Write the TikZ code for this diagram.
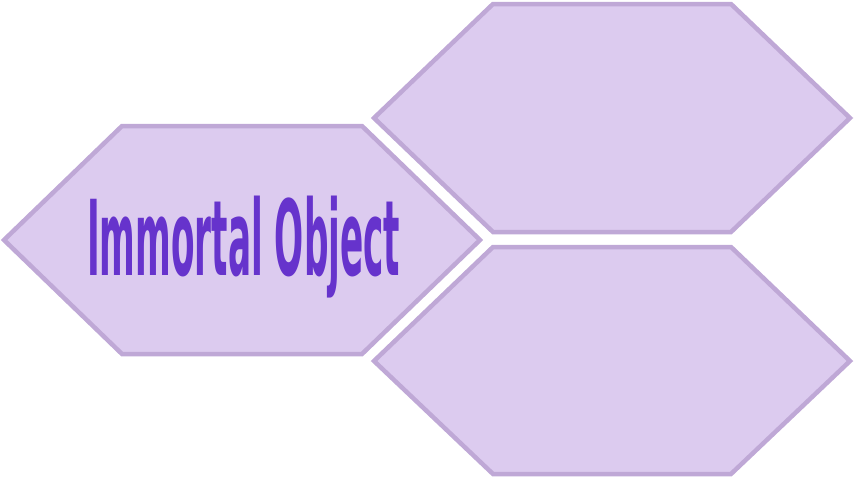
\documentclass[tikz,border=0pt]{standalone}
\usepackage{fontspec}
\setmainfont{DejaVu Sans Condensed}
\usepackage{graphicx}
\definecolor{hexfill}{HTML}{DCCBEF}
\definecolor{hexline}{HTML}{BFA8D6}
\definecolor{txt}{HTML}{6633CC}
\begin{document}
\begin{tikzpicture}[x=1pt,y=-1pt,
  hexa/.style={fill=hexfill,draw=hexline,line width=4.5pt,line join=miter}]
\useasboundingbox (0,0) rectangle (854,479);
% left hexagon
\draw[hexa] (4,240) -- (122,126) -- (362,126) -- (480,240) -- (362,354) -- (122,354) -- cycle;
% top right
\draw[hexa] (374,118) -- (493,4) -- (731,4) -- (850,118) -- (731,232) -- (493,232) -- cycle;
% bottom right
\draw[hexa] (374,361) -- (493,247) -- (731,247) -- (850,361) -- (731,474) -- (493,474) -- cycle;
\node[anchor=north west,inner sep=0pt,text=txt] (t) at (87,196)
  {\resizebox*{313pt}{102pt}{\bfseries Immortal Object}};
\end{tikzpicture}
\end{document}
